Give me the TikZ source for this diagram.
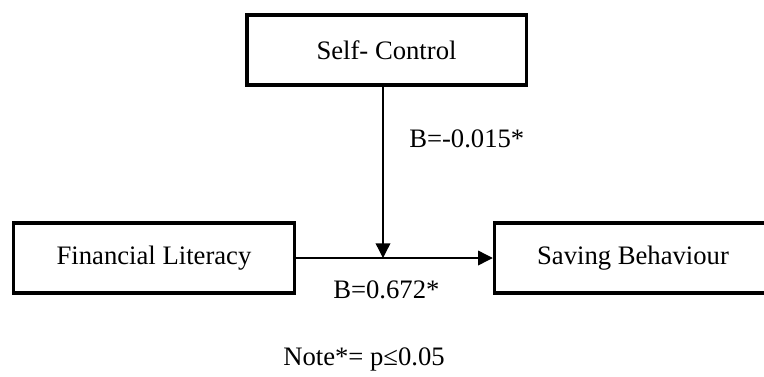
\documentclass[tikz,border=0pt]{standalone}
\usepackage{fontspec}
\setmainfont{Liberation Serif}
\usepackage{tikz}
\usetikzlibrary{arrows.meta, positioning, calc}

\begin{document}
\begin{tikzpicture}[
    x=0.75pt, y=-0.75pt,
    block/.style={rectangle, draw=black, line width=2.6pt, minimum height=52.5pt, align=center, font=\fontsize{20}{24}\selectfont},
    label/.style={font=\fontsize{20}{24}\selectfont, inner sep=0pt, anchor=base west},
    line/.style={-{Triangle[length=11pt, width=11pt]}, line width=1pt}
]
\useasboundingbox (0,0) rectangle (764,376);

% Nodes
\node[block, minimum width=209.6pt] (ctrl) at (386.5,50) {Self- Control};
\node[block, minimum width=210.4pt] (lit) at (154,258) {Financial Literacy};
\node[block, minimum width=207.75pt] (sav) at (633,258) {Saving Behaviour};
\coordinate (mid) at (383,258);

\node[label] (bctrl) at (409,147) {B=-0.015*};
\node[label] (blit) at (333,298) {B=0.672*};
\node[label] (note) at (283,365) {Note*= p≤0.05};

% Connections
\draw[line] (lit) -- (sav);
\draw[line] (ctrl.south -| mid) -- (mid);

\end{tikzpicture}
\end{document}
